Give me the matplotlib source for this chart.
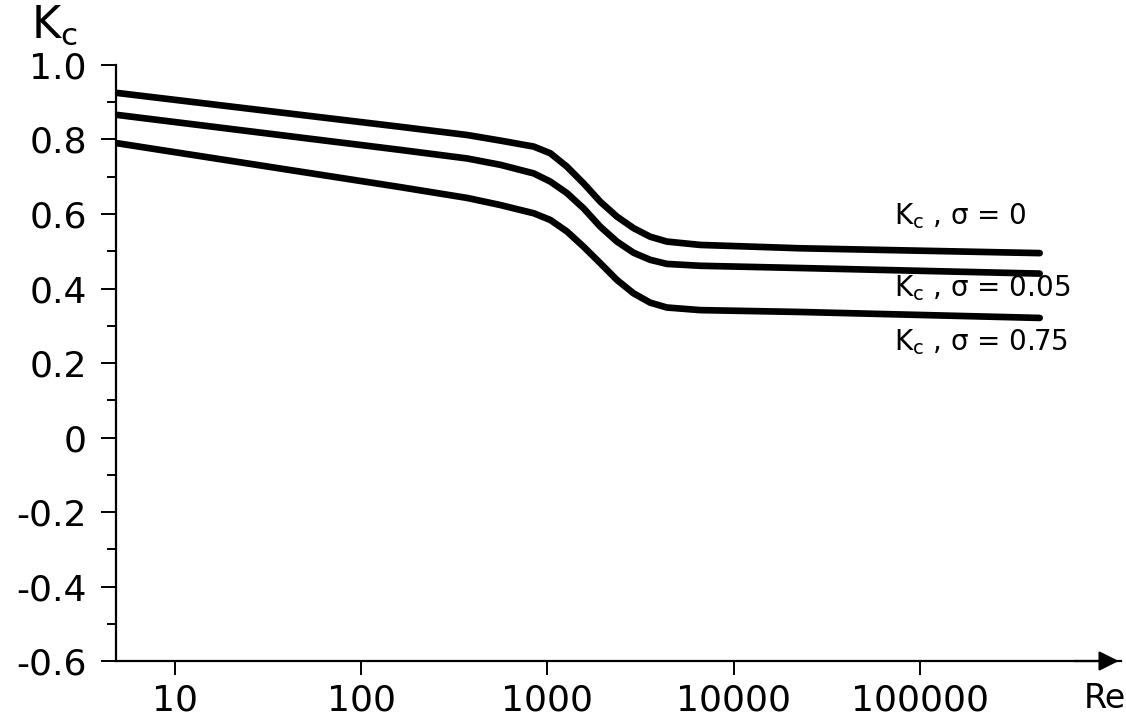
import matplotlib
matplotlib.use("Agg")
import matplotlib.pyplot as plt
from matplotlib.ticker import FixedLocator, FixedFormatter, NullLocator

# values
re_values = [4.9, 163, 372, 560, 845, 1038, 1275, 1567, 1924, 2364, 2904, 3567, 4382, 6610, 22700, 440000]
kc_sigma_0 = [0.925, 0.834, 0.812, 0.797, 0.781, 0.763, 0.727, 0.682, 0.633, 0.593, 0.562, 0.539, 0.526, 0.517, 0.508, 0.495]
kc_sigma_005 = [0.866, 0.772, 0.749, 0.732, 0.709, 0.687, 0.656, 0.615, 0.566, 0.526, 0.496, 0.477, 0.466, 0.461, 0.455, 0.440]
kc_sigma_075 = [0.790, 0.672, 0.643, 0.624, 0.602, 0.584, 0.553, 0.512, 0.468, 0.423, 0.387, 0.362, 0.349, 0.342, 0.337, 0.321]

curve_labels = [r"$\mathrm{K_c}$ , σ = 0", r"$\mathrm{K_c}$ , σ = 0.05", r"$\mathrm{K_c}$ , σ = 0.75"]
label_y = [0.595, 0.401, 0.256]

x_ticks = [10, 100, 1000, 10000, 100000]
x_ticklabels = ["10", "100", "1000", "10000", "100000"]
y_ticks = [1.0, 0.8, 0.6, 0.4, 0.2, 0.0, -0.2, -0.4, -0.6]
y_ticklabels = ["1.0", "0.8", "0.6", "0.4", "0.2", "0", "-0.2", "-0.4", "-0.6"]
y_minor = [0.9, 0.7, 0.5, 0.3, 0.1, -0.1, -0.3, -0.5]

plt.rcParams['font.family'] = ['DejaVu Sans']
plt.rcParams['mathtext.fontset'] = 'dejavusans'

fig = plt.figure(figsize=(11.26, 7.15), dpi=100)
ax = fig.add_axes([0.103, 0.0755, 0.893, 0.8336])

for vals in [kc_sigma_0, kc_sigma_005, kc_sigma_075]:
    ax.plot(re_values, vals, color='black', lw=4.8, solid_capstyle='round', solid_joinstyle='round')

for txt, yy in zip(curve_labels, label_y):
    ax.text(7.3e4, yy, txt, fontsize=20, va='center', ha='left')

ax.set_xscale('log')
ax.set_xlim(4.83, 1.21e6)
ax.set_ylim(-0.6, 1.0)

ax.xaxis.set_major_locator(FixedLocator(x_ticks))
ax.xaxis.set_major_formatter(FixedFormatter(x_ticklabels))
ax.xaxis.set_minor_locator(NullLocator())
ax.yaxis.set_major_locator(FixedLocator(y_ticks))
ax.yaxis.set_major_formatter(FixedFormatter(y_ticklabels))
ax.yaxis.set_minor_locator(FixedLocator(y_minor))

ax.tick_params(axis='x', which='major', direction='out', length=10, width=1.4, pad=6, labelsize=26)
ax.tick_params(axis='y', which='major', direction='out', length=11, width=1.4, pad=10, labelsize=26)
ax.tick_params(axis='y', which='minor', direction='out', length=6.5, width=1.4)

for side in ['top', 'right']:
    ax.spines[side].set_visible(False)
for side in ['left', 'bottom']:
    ax.spines[side].set_linewidth(1.6)

# arrow at the end of the Re axis
ax.annotate('', xy=(1.0, 0.0), xytext=(0.95, 0.0), xycoords='axes fraction',
            arrowprops=dict(arrowstyle='-|>', color='black', lw=1.6, mutation_scale=30))

fig.text(1084 / 1126, 1 - 708 / 715, "Re", fontsize=24, ha='left', va='baseline')
fig.text(31 / 1126, 1 - 38 / 715, r"$\mathrm{K_c}$", fontsize=32, ha='left', va='baseline')

fig.savefig("out.png", dpi=100)
